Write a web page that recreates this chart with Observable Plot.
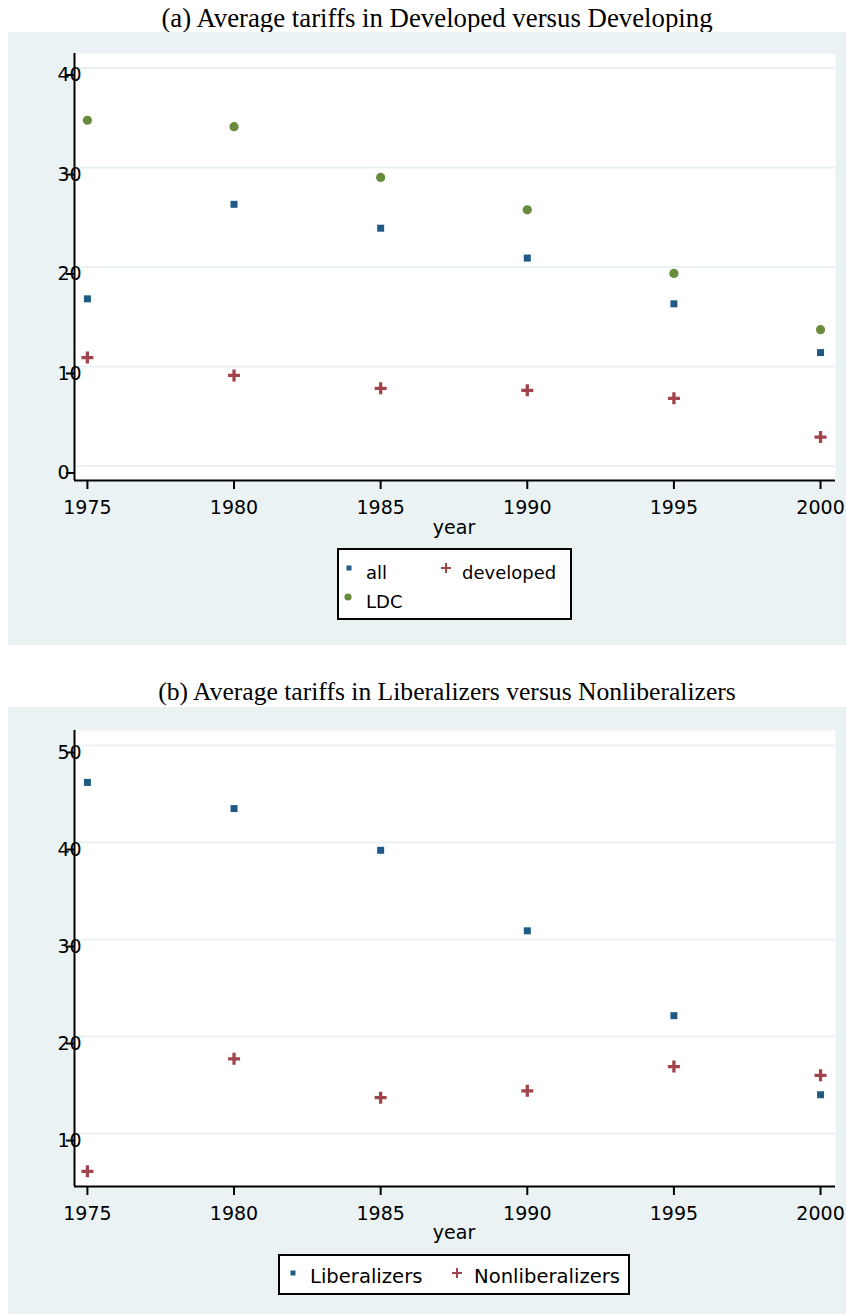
<!DOCTYPE html>
<html><head><meta charset="utf-8">
<script src="https://cdn.jsdelivr.net/npm/d3@7"></script>
<script src="https://cdn.jsdelivr.net/npm/@observablehq/plot@0.6"></script>
<style>
body{margin:0;background:#fff;}
#page{position:relative;width:846px;height:1314px;overflow:hidden;font-family:"DejaVu Sans",sans-serif;}
.title{position:absolute;font-family:"Liberation Serif","Times New Roman",serif;font-size:26.8px;white-space:nowrap;transform:translate(-50%,-50%);color:#000;line-height:1;}
.panel{position:absolute;left:8px;width:838px;background:#eaf2f3;}
.abs{position:absolute;left:0;}
.xlabel{position:absolute;font-size:19px;transform:translate(-50%,-50%);line-height:1;color:#000;}
</style></head>
<body><div id="page"></div>
<script>
// ---- data ----
const years = [1975, 1980, 1985, 1990, 1995, 2000];
const allTariff = [16.8, 26.3, 23.9, 20.9, 16.3, 11.4];
const developedTariff = [10.9, 9.1, 7.8, 7.6, 6.8, 2.9];
const ldcTariff = [34.75, 34.1, 29.0, 25.75, 19.35, 13.7];
const liberalizers = [46.2, 43.5, 39.2, 30.9, 22.15, 14.0];
const nonliberalizers = [6.1, 17.7, 13.7, 14.4, 16.9, 16.0];
const yTicksA = [0, 10, 20, 30, 40];
const yTicksB = [10, 20, 30, 40, 50];
const xTicks = [1975, 1980, 1985, 1990, 1995, 2000];
const titleA = "(a) Average tariffs in Developed versus Developing";
const titleB = "(b) Average tariffs in Liberalizers versus Nonliberalizers";
const seriesA = ["all", "developed", "LDC"];
const seriesB = ["Liberalizers", "Nonliberalizers"];

const BLUE = "#1f5a86", RED = "#a2444c", GREEN = "#688c3b", BG = "#eaf2f3";
const plusSym = {draw(ctx, size){const r=Math.sqrt(size/Math.PI);ctx.moveTo(-r,0);ctx.lineTo(r,0);ctx.moveTo(0,-r);ctx.lineTo(0,r);}};

const page = document.getElementById("page");
function add(html){const d=document.createElement("div");d.innerHTML=html;const el=d.firstChild;page.appendChild(el);return el;}

const xDomain = [1974.56, 2000.51];

function makePlot({top, height, mTop, mBottom, yDomain, yTicks, series}){
  const marks = [
    Plot.frame({fill:"white", stroke:null}),
    Plot.gridY(yTicks, {stroke:BG, strokeOpacity:1, strokeWidth:2}),
    Plot.ruleX([xDomain[0]], {stroke:"black", strokeWidth:2}),
    Plot.ruleY([yDomain[0]], {stroke:"black", strokeWidth:2}),
    Plot.axisY(yTicks, {anchor:"left", tickSize:8, tickPadding:9, textAnchor:"start", dy:7, fontSize:19, strokeWidth:2, fill:"black", label:null}),
    Plot.axisX(xTicks, {anchor:"bottom", tickSize:9, tickPadding:11, fontSize:19, strokeWidth:2, tickFormat:d=>String(d), fill:"black", label:null})
  ];
  for (const s of series) {
    if (s.kind === "square") marks.push(Plot.dot(years, {x:d=>d, y:(d,i)=>s.values[i], symbol:"square", r:3.95, fill:s.color, stroke:null}));
    if (s.kind === "circle") marks.push(Plot.dot(years, {x:d=>d, y:(d,i)=>s.values[i], symbol:"circle", r:4.6, fill:s.color, stroke:null}));
    if (s.kind === "plus") marks.push(Plot.dot(years, {x:d=>d, y:(d,i)=>s.values[i], symbol:plusSym, r:6, fill:"none", stroke:s.color, strokeWidth:3.3}));
  }
  const svg = Plot.plot({
    width:846, height, marginLeft:74, marginRight:11, marginTop:mTop, marginBottom:mBottom,
    x:{domain:xDomain, axis:null}, y:{domain:yDomain, axis:null},
    style:{background:"transparent", fontFamily:"DejaVu Sans", fontSize:"19px", color:"black", overflow:"visible"},
    marks
  });
  svg.style.position="absolute"; svg.style.left="0px"; svg.style.top=top+"px";
  page.appendChild(svg);
}

function legend({left, top, w, h, items, fontSize}){
  const svg = d3.create("svg").attr("width", w).attr("height", h)
    .style("position","absolute").style("left",left+"px").style("top",top+"px").style("overflow","visible");
  svg.append("rect").attr("x",1).attr("y",1).attr("width",w-2).attr("height",h-2).attr("fill","white").attr("stroke","black").attr("stroke-width",2);
  for (const it of items){
    const g = svg.append("g");
    if (it.kind==="square") g.append("rect").attr("x",it.mx-2.5).attr("y",it.my-2.5).attr("width",5).attr("height",5).attr("fill",BLUE);
    if (it.kind==="circle") g.append("circle").attr("cx",it.mx).attr("cy",it.my).attr("r",3.6).attr("fill",GREEN);
    if (it.kind==="plus") g.append("path").attr("d",`M${it.mx-5},${it.my}H${it.mx+5}M${it.mx},${it.my-5}V${it.my+5}`).attr("stroke",RED).attr("stroke-width",2).attr("fill","none");
    g.append("text").attr("x",it.tx).attr("y",it.ty).attr("font-family","DejaVu Sans").attr("font-size",fontSize).attr("fill","black").text(it.label);
  }
  page.appendChild(svg.node());
}

// ---- panel a ----
add(`<div class="title" style="left:437px;top:18px">${titleA}</div>`);
add(`<div class="panel" style="top:32px;height:613px"></div>`);
makePlot({top:32, height:613, mTop:21, mBottom:165, yDomain:[-1.46, 41.46], yTicks:yTicksA,
  series:[{kind:"square", values:allTariff, color:BLUE},{kind:"plus", values:developedTariff, color:RED},{kind:"circle", values:ldcTariff, color:GREEN}]});
add(`<div class="xlabel" style="left:454px;top:527px">year</div>`);
legend({left:337, top:548, w:235, h:72, fontSize:18, items:[
  {kind:"square", label:seriesA[0], mx:12, my:20, tx:29, ty:31},
  {kind:"plus", label:seriesA[1], mx:109, my:20, tx:125, ty:31},
  {kind:"circle", label:seriesA[2], mx:11, my:49, tx:29, ty:60}
]});

// ---- panel b ----
add(`<div class="title" style="left:447px;top:692px;font-size:25.6px">${titleB}</div>`);
add(`<div class="panel" style="top:707px;height:607px"></div>`);
makePlot({top:707, height:607, mTop:23, mBottom:128, yDomain:[4.54, 51.55], yTicks:yTicksB,
  series:[{kind:"square", values:liberalizers, color:BLUE},{kind:"plus", values:nonliberalizers, color:RED}]});
add(`<div class="xlabel" style="left:454px;top:1232px">year</div>`);
legend({left:278, top:1254, w:352, h:41, fontSize:19.6, items:[
  {kind:"square", label:seriesB[0], mx:15, my:19, tx:32, ty:29},
  {kind:"plus", label:seriesB[1], mx:179, my:19, tx:196, ty:29}
]});
</script></body></html>
